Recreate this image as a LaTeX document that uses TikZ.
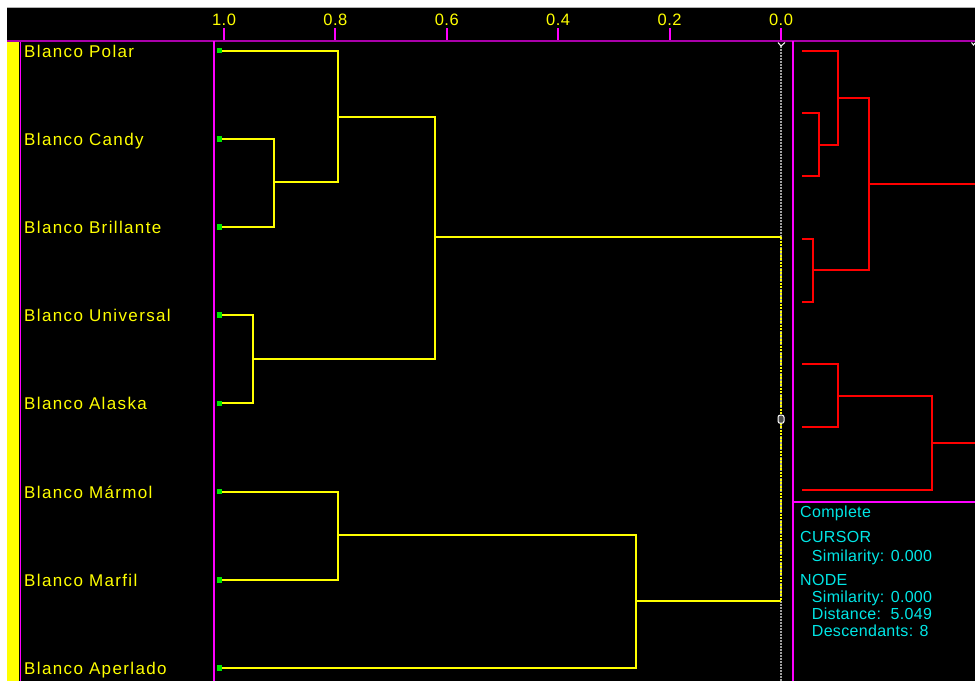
\documentclass[tikz,border=0pt]{standalone}
\usepackage{fontspec}
\setmainfont{Liberation Sans}
\newfontfamily\labfont[LetterSpace=8]{Liberation Sans}
\newfontfamily\infofont[LetterSpace=2]{Liberation Sans}
\newfontfamily\tickfont[LetterSpace=3]{Liberation Sans}
\definecolor{ylw}{RGB}{255,255,0}
\definecolor{mag}{RGB}{255,0,255}
\definecolor{magdk}{RGB}{170,0,170}
\definecolor{cyn}{RGB}{0,230,230}
\definecolor{grn}{RGB}{0,230,0}
\definecolor{rd}{RGB}{255,0,0}
\begin{document}
\begin{tikzpicture}[x=1pt,y=-1pt,
  yline/.style={draw=ylw,line width=2pt},
  rline/.style={draw=rd,line width=2pt},
  magline/.style={draw=mag,line width=2pt},
  leafbox/.style={fill=grn,draw=none,minimum size=5.5pt,inner sep=0pt},
  leaflabel/.style={anchor=base west,text=ylw,inner sep=0pt,font=\labfont\fontsize{17}{20}\selectfont},
  ticklabel/.style={anchor=base,text=ylw,inner sep=0pt,font=\tickfont\fontsize{16.5}{19}\selectfont},
  infotext/.style={anchor=base west,text=cyn,inner sep=0pt,font=\infofont\fontsize{16}{19}\selectfont}]
\useasboundingbox (0,0) rectangle (975,681);
% background
\fill[white] (0,0) rectangle (975,681);
\fill[black] (7,7) rectangle (975,681);
\draw[gray!60,line width=1pt] (7,7) -- (975,7);
\fill[ylw] (7,41.5) rectangle (19,681);
\draw[mag,line width=1pt] (20,41.5) -- (20,681);
\draw[magdk,line width=1.5pt] (7,41) -- (975,41);
\draw[magline] (214,41) -- (214,681);
\draw[magline] (793,41) -- (793,681);
\draw[magline] (793,502) -- (975,502);
% axis ticks
\foreach \x/\l [count=\k] in {224/1.0,335.4/0.8,446.8/0.6,558.2/0.4,669.6/0.2,781/0.0}{
  \draw[magline] (\x,28) -- (\x,40);
  \node[ticklabel] (tick\k) at (\x,25) {\l};
}
% cursor line
\draw[gray!75,line width=1.2pt,dash pattern=on 1.5pt off 1.5pt] (781,46) -- (781,681);
\draw[white,line width=1pt] (778,42.5) -- (781,46) -- (785,42.5);
\draw[white,line width=1pt] (971.5,42.5) -- (973.5,45) -- (975,43);
% leaves
\foreach \t [count=\i] in {Blanco Polar,Blanco Candy,Blanco Brillante,Blanco Universal,Blanco Alaska,Blanco Mármol,Blanco Marfil,Blanco Aperlado}{
  \node[leafbox] (g\i) at (219.5,{50.6+88.2*(\i-1)}) {};
  \node[leaflabel] (t\i) at (24,{50.6+88.2*(\i-1)+6.5}) {\t};
}
% yellow dendrogram
\coordinate (y23) at (274,182.3);
\coordinate (y1) at (338.3,116.5);
\coordinate (y45) at (252.7,358.8);
\coordinate (y15) at (435,237.2);
\coordinate (y67) at (338.3,535.2);
\coordinate (y68) at (636,601.2);
\coordinate (root) at (781,419.2);
\draw[yline] (g2.east) -| (y23) |- (g3.east);
\draw[yline] (g1.east) -| (y1) |- (y23);
\draw[yline] (g4.east) -| (y45) |- (g5.east);
\draw[yline] (y1) -| (y15) |- (y45);
\draw[yline] (g6.east) -| (y67) |- (g7.east);
\draw[yline] (y67) -| (y68) |- (g8.east);
\draw[yline] (y15) -- (y15 -| root);
\draw[yline] (y68) -- (y68 -| root);
\draw[ylw,line width=1.6pt,dash pattern=on 2pt off 1.5pt] (y15 -| root) -- (y68 -| root);
\node[draw=white,line width=1pt,fill=gray!60!black,minimum width=6pt,minimum height=8pt,inner sep=0pt,rounded corners=2pt] (cur) at (root) {};
% red dendrogram
\foreach \i in {1,...,8}{
  \coordinate (r\i) at (802,{50.7+62.73*(\i-1)});
}
\coordinate (ra) at (818.7,144.8);
\coordinate (rb) at (838.3,97.8);
\coordinate (rc) at (812.7,270.3);
\coordinate (rd) at (868.7,184);
\coordinate (re) at (837.7,395.7);
\coordinate (rf) at (932,442.8);
\coordinate (rend1) at (975,184);
\coordinate (rend2) at (975,442.8);
\draw[rline] (r2) -| (ra) |- (r3);
\draw[rline] (r1) -| (rb) |- (ra);
\draw[rline] (r4) -| (rc) |- (r5);
\draw[rline] (rb) -| (rd) |- (rc);
\draw[rline] (rd) -- (rend1);
\draw[rline] (r6) -| (re) |- (r7);
\draw[rline] (re) -| (rf) |- (r8);
\draw[rline] (rf) -- (rend2);
% info panel
\node[infotext] (i1) at (800,517.7) {Complete};
\node[infotext] (i2) at (800,542.7) {CURSOR};
\node[infotext] (i3) at (811.7,561) {Similarity: 0.000};
\node[infotext] (i4) at (800,585) {NODE};
\node[infotext] (i5) at (811.7,602.7) {Similarity: 0.000};
\node[infotext] (i6) at (811.7,619.3) {Distance:\ \ 5.049};
\node[infotext] (i7) at (811.7,636.7) {Descendants: 8};
\end{tikzpicture}
\end{document}
